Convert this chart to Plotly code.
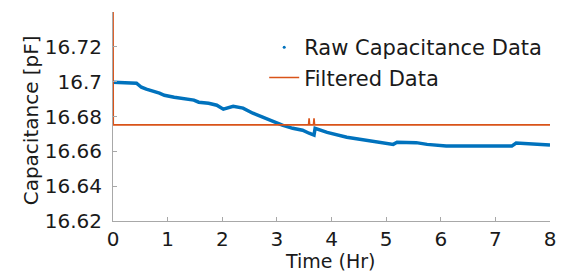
import plotly.graph_objects as go

# ---- data ----
raw_time = [0.00, 0.43, 0.52, 0.61, 0.85, 0.94, 1.12, 1.30, 1.48, 1.57, 1.75, 1.90,
            2.02, 2.20, 2.38, 2.56, 2.74, 2.92, 3.10, 3.29, 3.47, 3.59, 3.68,
            3.70, 3.92, 4.28, 4.64, 5.00, 5.13, 5.20, 5.55, 5.75, 6.10, 7.30, 7.38, 8.00]
raw_cap = [16.6997, 16.6991, 16.6968, 16.6957, 16.6934, 16.6922, 16.6911, 16.6905, 16.6894,
           16.6882, 16.6876, 16.6865, 16.6842, 16.6859, 16.6848, 16.6819, 16.6796, 16.6778,
           16.6750, 16.6732, 16.6721, 16.6704, 16.6693,
           16.6732, 16.6709, 16.6681, 16.6663, 16.6646, 16.6640, 16.6652, 16.6650, 16.6640,
           16.6630, 16.6630, 16.6648, 16.6636]

filt_time = [0.000, 0.005, 3.580, 3.590, 3.600, 3.670, 3.680, 3.690, 8.000]
filt_cap = [16.7600, 16.6752, 16.6752, 16.6790, 16.6752, 16.6752, 16.6790, 16.6752, 16.6752]

y_ticks = [16.62, 16.64, 16.66, 16.68, 16.70, 16.72]
y_tick_text = ["16.62", "16.64", "16.66", "16.68", "16.7", "16.72"]
x_ticks = [0, 1, 2, 3, 4, 5, 6, 7, 8]

BLUE = "#0072BD"
ORANGE = "#D95319"
FONT = "DejaVu Sans"
TXT = "#1a1a1a"
AX = "#a8a8a8"

fig = go.Figure()
fig.add_trace(go.Scatter(x=raw_time, y=raw_cap, mode="lines",
                         line=dict(color=BLUE, width=3.5),
                         name="Raw Capacitance Data", showlegend=False))
fig.add_trace(go.Scatter(x=[None], y=[None], mode="markers",
                         marker=dict(color=BLUE, size=3),
                         name="Raw Capacitance Data"))
fig.add_trace(go.Scatter(x=filt_time, y=filt_cap, mode="lines",
                         line=dict(color=ORANGE, width=1.6),
                         name="Filtered Data"))

fig.update_layout(
    width=565, height=275,
    margin=dict(l=113, r=9, t=12, b=54),
    paper_bgcolor="white", plot_bgcolor="white",
    font=dict(family=FONT, size=20, color=TXT),
    legend=dict(x=0.346, y=0.928, xanchor="left", yanchor="top",
                bgcolor="rgba(0,0,0,0)", font=dict(size=21, color=TXT),
                tracegroupgap=0),
    annotations=[
        dict(text="Time (Hr)", xref="paper", yref="paper", x=0.497, y=-0.2535,
             xanchor="center", yanchor="bottom", showarrow=False,
             font=dict(size=19, color=TXT, family=FONT)),
        dict(text="Capacitance [pF]", xref="paper", yref="paper", x=-0.187, y=0.483,
             xanchor="center", yanchor="middle", showarrow=False, textangle=-90,
             font=dict(size=20, color=TXT, family=FONT)),
    ],
)
fig.update_xaxes(range=[0, 8], tickvals=x_ticks, showgrid=False, zeroline=False,
                 showline=True, linecolor=AX, linewidth=1,
                 ticks="inside", ticklen=4, tickcolor=AX,
                 tickfont=dict(size=20, color=TXT, family=FONT), ticklabelstandoff=0)
fig.update_yaxes(range=[16.62, 16.74], tickvals=y_ticks, ticktext=y_tick_text,
                 showgrid=False, zeroline=False,
                 showline=True, linecolor=AX, linewidth=1,
                 ticks="inside", ticklen=4, tickcolor=AX,
                 tickfont=dict(size=20, color=TXT, family=FONT), ticklabelstandoff=6)

fig.write_html("out.html", config={"displayModeBar": False},
               post_script="document.body.style.margin='0px';")
